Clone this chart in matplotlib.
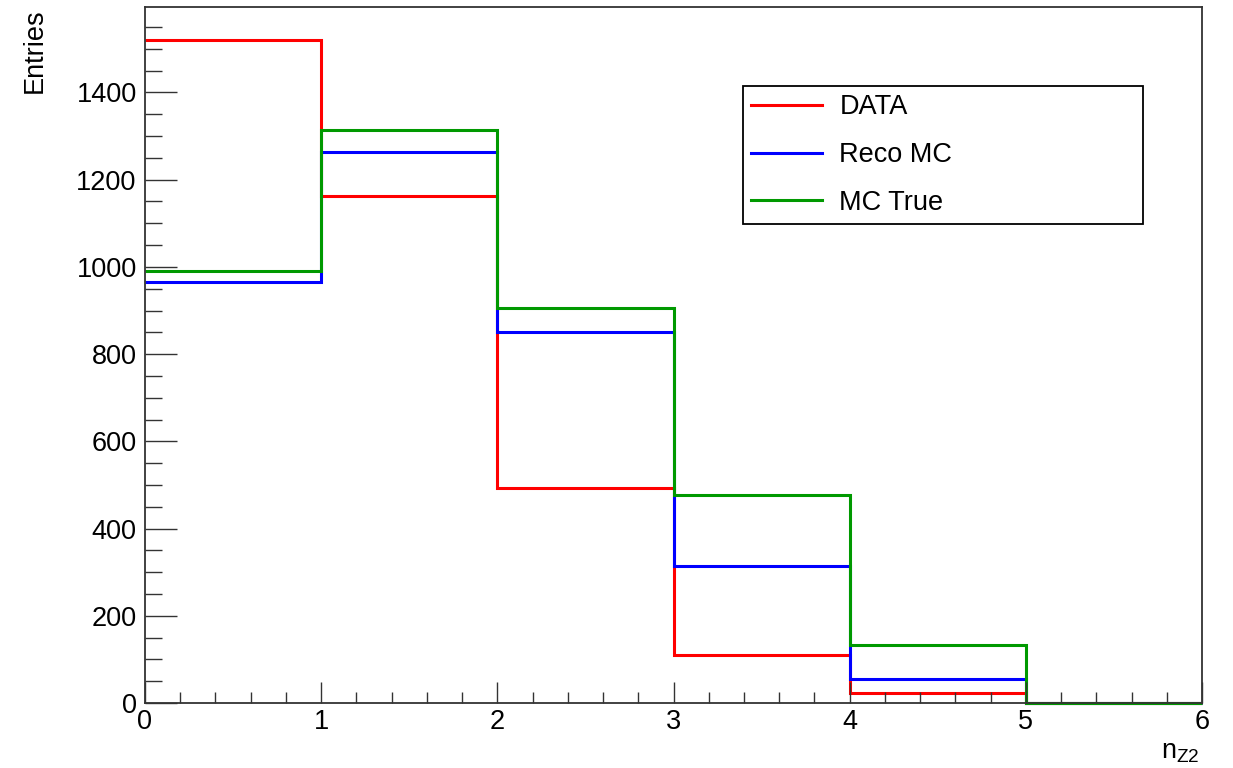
import numpy as np
import matplotlib
matplotlib.use("Agg")
import matplotlib.pyplot as plt
from matplotlib.ticker import MultipleLocator

plt.rcParams['font.family'] = ['Liberation Sans', 'DejaVu Sans']

# bin edges and contents for n_Z2
edges = [0, 1, 2, 3, 4, 5, 6]
data_counts = [1520, 1162, 493, 110, 22, 0]
reco_counts = [966, 1264, 850, 315, 55, 0]
true_counts = [990, 1315, 905, 477, 132, 0]
labels = ["DATA", "Reco MC", "MC True"]
colors = ["#ff0000", "#0000ff", "#009900"]

fig = plt.figure(figsize=(12.33, 7.68), dpi=100)
ax = fig.add_axes([145/1233, 1 - 703/768, 1057/1233, 696/768])

for counts, lab, col in zip([data_counts, reco_counts, true_counts], labels, colors):
    ax.stairs(counts, edges, baseline=None, color=col, linewidth=2.2,
              label=lab, clip_on=False)

ax.set_xlim(0, 6)
ax.set_ylim(0, 1.05 * max(data_counts))

ax.xaxis.set_major_locator(MultipleLocator(1))
ax.xaxis.set_minor_locator(MultipleLocator(0.2))
ax.yaxis.set_major_locator(MultipleLocator(200))
ax.yaxis.set_minor_locator(MultipleLocator(50))
ax.tick_params(axis='both', which='both', direction='in', width=1.0,
               color='#333333', labelsize=19.5, top=False, right=False)
ax.tick_params(axis='y', which='major', length=23, pad=6)
ax.tick_params(axis='y', which='minor', length=12.5)
ax.tick_params(axis='x', which='major', length=15, pad=4)
ax.tick_params(axis='x', which='minor', length=8)
for sp in ax.spines.values():
    sp.set_linewidth(1.3)
    sp.set_color('#333333')

fig.text(35/1233, 1 - 8/768, "Entries", rotation=90, ha='center', va='top',
         fontsize=19.5)
fig.text(1200/1233, 1 - 752/768, r"n$_{\mathregular{Z2}}$", ha='right',
         va='center', fontsize=19.5)

leg = ax.legend(loc='upper left', bbox_to_anchor=(0.566, 0.886, 0.378, 0.0),
                mode='expand', fontsize=19.5, frameon=True, fancybox=False,
                edgecolor='black', framealpha=1, handlelength=2.6,
                handletextpad=0.65, labelspacing=0.8, borderpad=0.3,
                borderaxespad=0)
leg.get_frame().set_linewidth(1.3)

fig.savefig("out.png", dpi=100)
